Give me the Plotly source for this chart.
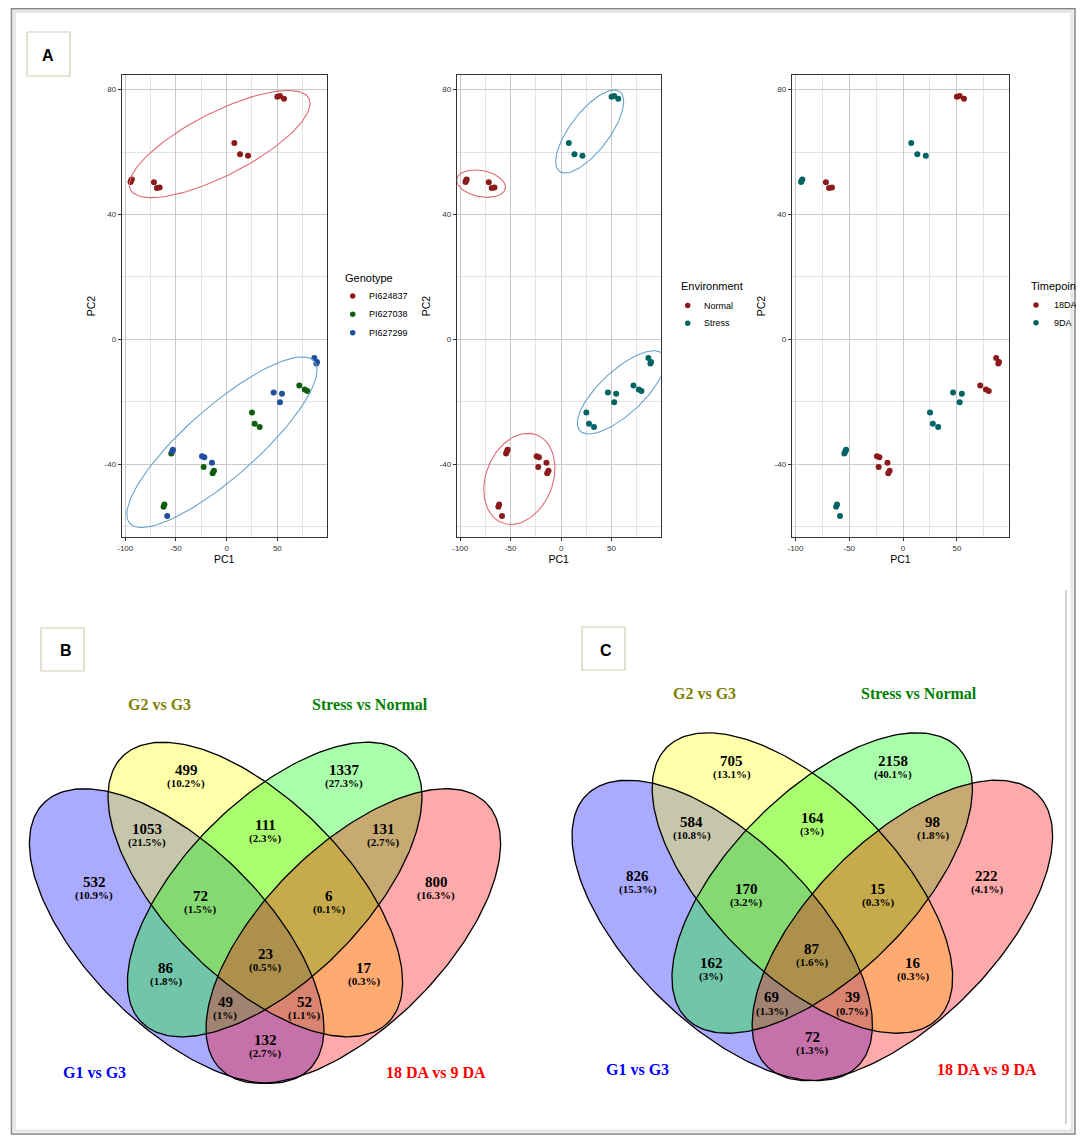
import numpy as np
import plotly.graph_objects as go

W, H = 1084, 1142
OFF = 8  # the page body margin; the figure is drawn from (OFF, OFF)

# ---------------- PCA data ----------------
pc1 = [-94.8, -94.2, -93.6, -71.7, -68.8, -66.1, 7.6, 13.2, 21.1, 50.0, 52.6, 56.6,
       -54.6, -62.2, -61.4, -22.7, -13.8, -12.5, 25.0, 27.6, 32.6, 71.7, 77.0, 79.6,
       -53.0, -53.6, -58.6, -24.3, -22.0, -14.5, 46.4, 54.6, 52.6, 86.5, 89.1, 88.5]
pc2 = [50.4, 50.9, 51.2, 50.3, 48.5, 48.6, 62.9, 59.3, 58.8, 77.7, 78.0, 77.1,
       -36.6, -53.7, -53.0, -41.0, -43.0, -42.2, -23.5, -27.1, -28.1, -14.8, -16.1, -16.6,
       -35.4, -35.9, -56.7, -37.5, -37.8, -39.6, -17.1, -17.5, -20.2, -6.0, -7.3, -7.8]
genotype = ["PI624837"] * 12 + ["PI627038"] * 12 + ["PI627299"] * 12
environment = ["Normal", "Normal", "Normal", "Normal", "Normal", "Normal",
               "Stress", "Stress", "Stress", "Stress", "Stress", "Stress"] * 3
timepoint = ["9DA", "9DA", "9DA", "18DA", "18DA", "18DA",
             "9DA", "9DA", "9DA", "18DA", "18DA", "18DA"] * 3

genotype_levels = ["PI624837", "PI627038", "PI627299"]
environment_levels = ["Normal", "Stress"]
timepoint_levels = ["18DA", "9DA"]

x_tickvals = [-100, -50, 0, 50]
x_ticktext = ["-100", "-50", "0", "50"]
x_minor = [-75, -25, 25, 75]
y_tickvals = [-40, 0, 40, 80]
y_ticktext = ["-40", "0", "40", "80"]
y_minor = [-60, -20, 20, 60]

# ---------------- Venn data ----------------
venn_regions = ["G2", "S", "G1G2", "G2S", "S18", "G1", "G1G2S", "G2S18", "D18",
                "ALL", "G1S", "G218", "G1S18", "G1G218", "G118"]
venn_b_counts = [499, 1337, 1053, 111, 131, 532, 72, 6, 800, 23, 86, 17, 49, 52, 132]
venn_b_pct = ["10.2%", "27.3%", "21.5%", "2.3%", "2.7%", "10.9%", "1.5%", "0.1%", "16.3%",
              "0.5%", "1.8%", "0.3%", "1%", "1.1%", "2.7%"]
venn_c_counts = [705, 2158, 584, 164, 98, 826, 170, 15, 222, 87, 162, 16, 69, 39, 72]
venn_c_pct = ["13.1%", "40.1%", "10.8%", "3%", "1.8%", "15.3%", "3.2%", "0.3%", "4.1%",
              "1.6%", "3%", "0.3%", "1.3%", "0.7%", "1.3%"]
venn_set_names = ["G1 vs G3", "G2 vs G3", "Stress vs Normal", "18 DA vs 9 DA"]

# ---------------- styling / layout constants ----------------
COL_GENO = {"PI624837": "#8B1A1A", "PI627038": "#0D5E0D", "PI627299": "#1F4F9E"}
COL_ENV = {"Normal": "#8B1A1A", "Stress": "#006464"}
COL_TIME = {"18DA": "#8B1A1A", "9DA": "#006464"}
ELL_RED = "#E26A78"
ELL_BLUE = "#68A3CA"
MAJOR = "#C9C9C9"
MINOR = "#E4E4E4"
SANS = "Liberation Sans, Arial, sans-serif"
SERIF = "Liberation Serif, Times New Roman, serif"
XR = [-103.5, 98.7]
YR = [-63.4, 84.7]
ELL_F, ELL_K, ELL_E = 2.777, 0.9, 9.25  # enclosing-ellipse aspect, scale, expansion

REGION_POS = {"G2": (-79, -313.3), "S": (79, -313.3), "G1G2": (-118.3, -254), "G2S": (0, -258),
              "S18": (118.3, -254), "G1": (-171, -201), "G1G2S": (-65, -187.6),
              "G2S18": (64.3, -187.6), "D18": (171, -201), "ALL": (0, -129),
              "G1S": (-99, -115), "G218": (99, -115), "G1S18": (-40, -81.6),
              "G1G218": (39.3, -81.6), "G118": (0, -43.3)}
SET_POS = [(-171, -10.6), (-105.7, -379.3), (105, -379.3), (171, -10.6)]
SET_COL = ["#0000FF", "#808000", "#008000", "#FF0000"]
VENN_ELL = [(-88.3, -147.3, 45, "rgba(0,0,255,0.333)"),
            (-9.7, -193.8, 45, "rgba(255,255,0,0.333)"),
            (9.7, -193.8, -45, "rgba(0,255,0,0.333)"),
            (88.3, -147.3, -45, "rgba(255,0,0,0.333)")]
VA, VB = 188.0, 89.7


def enclosing_ellipse(xs, ys, tol=1e-4, maxit=4000, n=120):
    """Minimum-volume enclosing ellipse (Khachiyan) in (x, f*y), scaled and expanded."""
    P = np.column_stack([xs, np.asarray(ys) * ELL_F]).astype(float)
    N, d = P.shape
    Q = np.vstack([P.T, np.ones(N)])
    u = np.full(N, 1.0 / N)
    for _ in range(maxit):
        X = (Q * u) @ Q.T
        M = np.sum(Q * np.linalg.solve(X, Q), axis=0)
        j = int(np.argmax(M))
        step = (M[j] - d - 1) / ((d + 1) * (M[j] - 1))
        nu = (1 - step) * u
        nu[j] += step
        if np.linalg.norm(nu - u) < tol:
            u = nu
            break
        u = nu
    c = P.T @ u
    A = np.linalg.inv((P.T * u) @ P - np.outer(c, c)) / d
    lam, V = np.linalg.eigh(A)
    r = ELL_K / np.sqrt(lam) + ELL_E
    t = np.linspace(0, 2 * np.pi, n)
    E = c[:, None] + V @ (r[:, None] * np.vstack([np.cos(t), np.sin(t)]))
    return E[0], E[1] / ELL_F


def dx(px0, px1):
    return [(px0 - OFF) / (W - OFF), (px1 - OFF) / (W - OFF)]


def dy(py_top, py_bot):
    return [1 - (py_bot - OFF) / (H - OFF), 1 - (py_top - OFF) / (H - OFF)]


fig = go.Figure()
pc1a = np.array(pc1)
pc2a = np.array(pc2)

panels = [
    ("", "Genotype", genotype, genotype_levels, COL_GENO, (121.7, 326.7),
     (343, 277.5), 352.7, 367.3, [296, 314.3, 332.7]),
    ("2", "Environment", environment, environment_levels, COL_ENV, (456.7, 660.7),
     (679, 286), 687.7, 702.3, [305.5, 323.3]),
    ("3", "Timepoint", timepoint, timepoint_levels, COL_TIME, (791.7, 1009.3),
     (1029, 285.5), 1036, 1051.7, [305, 322.8]),
]

upper = np.array([g == "PI624837" for g in genotype])
env_a = np.array(environment)
ell_groups = {
    "": [(upper, ELL_RED), (~upper, ELL_BLUE)],
    "2": [((env_a == "Normal") & upper, ELL_RED), ((env_a == "Normal") & ~upper, ELL_RED),
          ((env_a == "Stress") & upper, ELL_BLUE), ((env_a == "Stress") & ~upper, ELL_BLUE)],
    "3": [],
}

annotations = []
layout_axes = {}
for n, ttl, var, levels, cols, dom, tpos, mx, tx, ys in panels:
    var_a = np.array(var)
    for lev in levels:
        m = var_a == lev
        fig.add_trace(go.Scatter(x=pc1a[m], y=pc2a[m], mode="markers", name=lev,
                                 marker=dict(size=6, color=cols[lev]), showlegend=False,
                                 xaxis="x" + n, yaxis="y" + n))
    for mask, c in ell_groups[n]:
        ex, ey = enclosing_ellipse(pc1a[mask], pc2a[mask])
        fig.add_trace(go.Scatter(x=ex, y=ey, mode="lines", line=dict(color=c, width=1.1),
                                 showlegend=False, hoverinfo="skip",
                                 xaxis="x" + n, yaxis="y" + n))
    ax = dict(showline=True, mirror=True, linecolor="#333333", linewidth=1,
              ticks="outside", ticklen=3, tickcolor="#333333", tickwidth=1,
              showgrid=True, gridcolor=MAJOR, gridwidth=1, zeroline=False,
              tickfont=dict(family=SANS, size=8, color="#333333"), automargin=False)
    layout_axes["xaxis" + n] = dict(
        ax, domain=dx(*dom), range=XR,
        tickmode="array", tickvals=x_tickvals, ticktext=x_ticktext,
        minor=dict(tickvals=x_minor, showgrid=True, gridcolor=MINOR, gridwidth=1, ticks=""),
        title=dict(text="PC1", font=dict(family=SANS, size=10.5, color="#000"), standoff=3),
        anchor="y" + n)
    layout_axes["yaxis" + n] = dict(
        ax, domain=dy(75, 537), range=YR,
        tickmode="array", tickvals=y_tickvals, ticktext=y_ticktext,
        minor=dict(tickvals=y_minor, showgrid=True, gridcolor=MINOR, gridwidth=1, ticks=""),
        title=dict(text="PC2", font=dict(family=SANS, size=10.5, color="#000"), standoff=6),
        anchor="x" + n)
    # legend drawn by hand (title, keys, labels)
    annotations.append(dict(x=tpos[0], y=tpos[1], xref="x4", yref="y4", text=ttl,
                            showarrow=False, xanchor="left", yanchor="middle",
                            font=dict(family=SANS, size=11, color="black")))
    fig.add_trace(go.Scatter(x=[mx] * len(levels), y=ys, mode="markers",
                             marker=dict(size=5.5, color=[cols[l] for l in levels]),
                             showlegend=False, hoverinfo="skip", xaxis="x4", yaxis="y4"))
    for lev, yy in zip(levels, ys):
        annotations.append(dict(x=tx, y=yy, xref="x4", yref="y4", text=lev,
                                showarrow=False, xanchor="left", yanchor="middle",
                                font=dict(family=SANS, size=9, color="black")))

# ---------------- Venn diagrams on a full-figure pixel axis ----------------
venn_panels = [(265.0, 1083.3, 1.0, venn_b_counts, venn_b_pct),
               (812.3, 1080.7, 1.02, venn_c_counts, venn_c_pct)]
t = np.linspace(0, 2 * np.pi, 240)
for ox, oy, s, counts, pcts in venn_panels:
    outlines = []
    for cx, cy, angd, fc in VENN_ELL:
        a = np.radians(angd)
        ex = ox + s * (cx + VA * np.cos(t) * np.cos(a) - VB * np.sin(t) * np.sin(a))
        ey = oy + s * (cy + VA * np.cos(t) * np.sin(a) + VB * np.sin(t) * np.cos(a))
        fig.add_trace(go.Scatter(x=ex, y=ey, mode="lines", fill="toself", fillcolor=fc,
                                 line=dict(width=0), showlegend=False, hoverinfo="skip",
                                 xaxis="x4", yaxis="y4"))
        outlines.append((ex, ey))
    for ex, ey in outlines:
        fig.add_trace(go.Scatter(x=ex, y=ey, mode="lines", line=dict(color="black", width=1.3),
                                 showlegend=False, hoverinfo="skip", xaxis="x4", yaxis="y4"))
    for reg, cnt, pct in zip(venn_regions, counts, pcts):
        ddx, ddy = REGION_POS[reg]
        px, py = ox + s * ddx, oy + s * ddy
        annotations.append(dict(x=px, y=py, xref="x4", yref="y4", text=f"<b>{cnt}</b>",
                                showarrow=False, xanchor="center", yanchor="middle",
                                font=dict(family=SERIF, size=15, color="black")))
        annotations.append(dict(x=px, y=py + 13.3 * s, xref="x4", yref="y4", text=f"<b>({pct})</b>",
                                showarrow=False, xanchor="center", yanchor="middle",
                                font=dict(family=SERIF, size=11, color="black")))
    for name, (ddx, ddy), c in zip(venn_set_names, SET_POS, SET_COL):
        annotations.append(dict(x=ox + s * ddx, y=oy + s * ddy, xref="x4", yref="y4",
                                text=f"<b>{name}</b>", showarrow=False,
                                xanchor="center", yanchor="middle",
                                font=dict(family=SERIF, size=16, color=c)))

# panel letters and frames
shapes = []
for letter, (x0, y0, x1, y1), (lx, ly) in [("A", (27, 32, 70, 76), (48.3, 55)),
                                            ("B", (41, 628, 84, 671), (65.7, 650)),
                                            ("C", (582, 627, 625, 670), (605.7, 650))]:
    shapes.append(dict(type="rect", xref="x4", yref="y4", x0=x0, y0=y0, x1=x1, y1=y1,
                       line=dict(color="#D3CBB2", width=1.2)))
    annotations.append(dict(x=lx, y=ly, xref="x4", yref="y4",
                            text=f"<b>{letter}</b>", showarrow=False,
                            font=dict(family=SANS, size=16, color="black")))
shapes.append(dict(type="rect", xref="x4", yref="y4", x0=14.5, y0=11.5, x1=1072, y1=1131,
                   line=dict(color="#E6E6E6", width=3)))
shapes.append(dict(type="rect", xref="x4", yref="y4", x0=11.5, y0=8.8, x1=1075, y1=1134,
                   line=dict(color="#858585", width=1.5)))
shapes.append(dict(type="line", xref="x4", yref="y4", x0=1066, y0=590, x1=1066, y1=1124,
                   line=dict(color="#C4C4C4", width=1.5)))

fig.update_layout(
    width=W - OFF, height=H - OFF, margin=dict(l=0, r=0, t=0, b=0, autoexpand=False),
    paper_bgcolor="white", plot_bgcolor="rgba(0,0,0,0)", showlegend=False,
    xaxis4=dict(domain=[0, 1], range=[OFF, W], visible=False, anchor="y4", fixedrange=True),
    yaxis4=dict(domain=[0, 1], range=[H, OFF], visible=False, anchor="x4", fixedrange=True),
    annotations=annotations, shapes=shapes, **layout_axes,
)

fig.write_html("out.html")
